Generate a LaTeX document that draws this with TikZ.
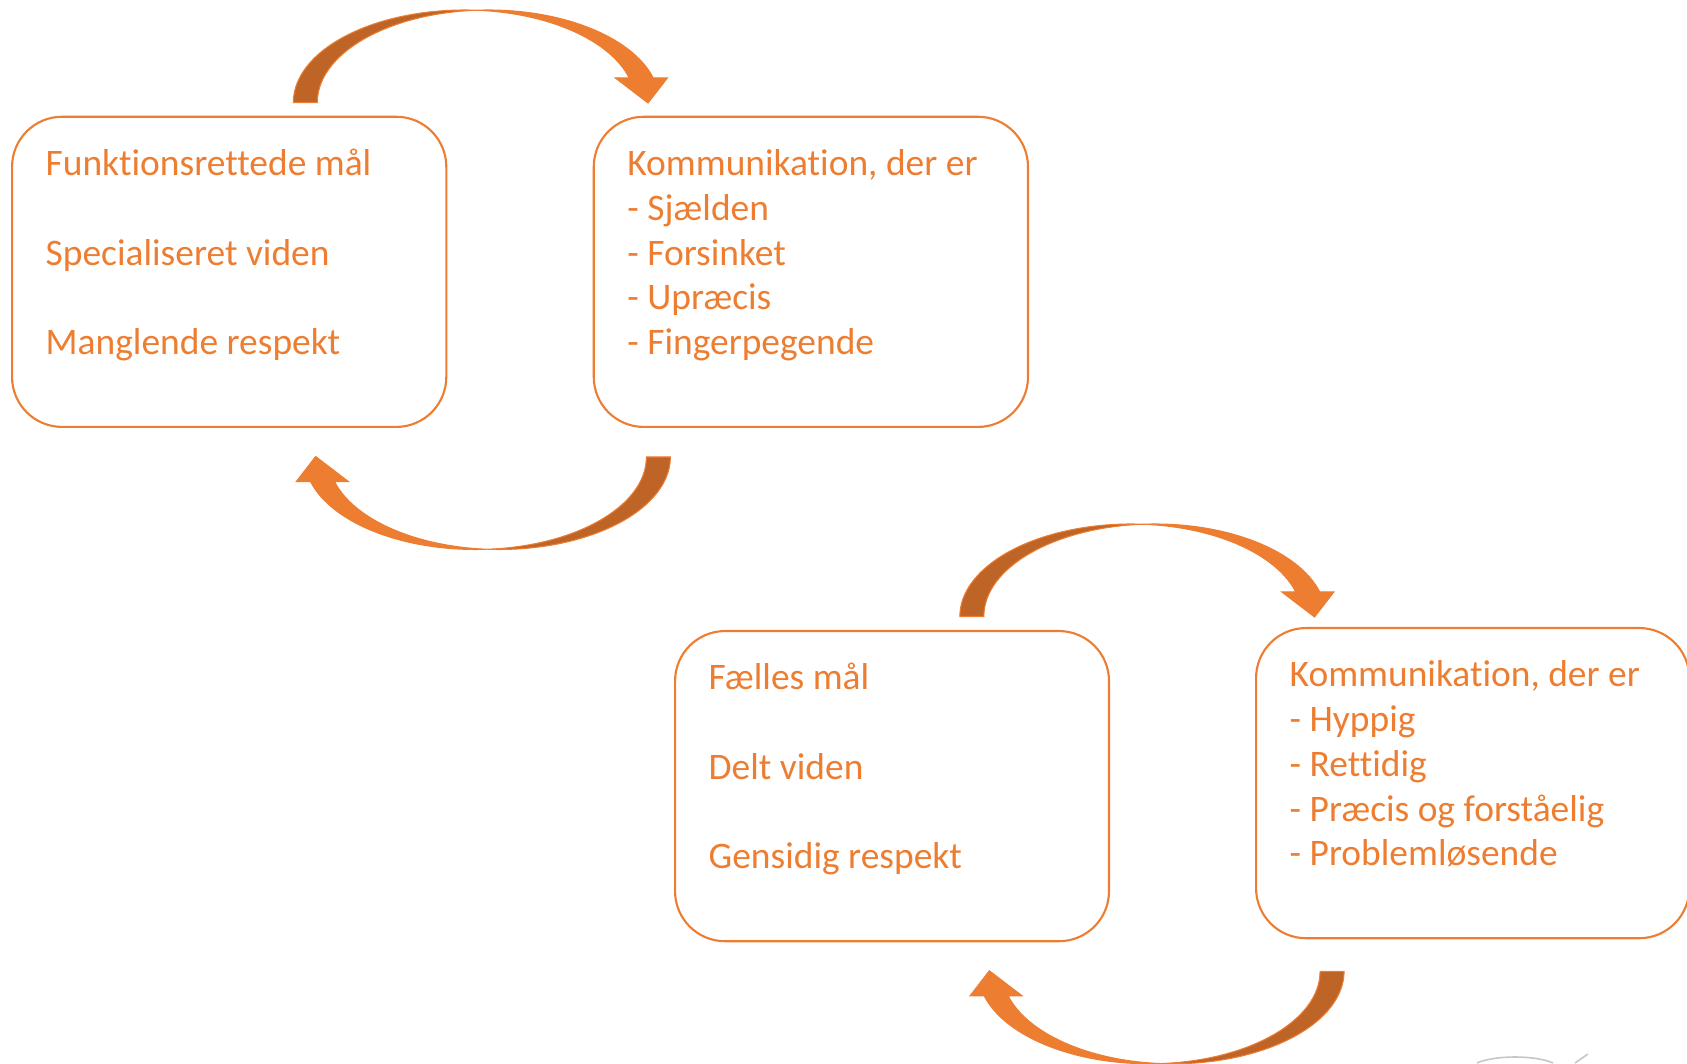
\documentclass[tikz,border=0pt]{standalone}
\usepackage{fontspec}
\setmainfont{Carlito}[Ligatures=NoCommon]
\definecolor{accent}{HTML}{ED7D31}
\definecolor{accentdark}{HTML}{BE6427}
\tikzset{
  box/.style={draw=accent, line width=0.6pt, rounded corners=0.5cm, minimum width=4.34cm, minimum height=3.1cm, inner sep=0pt, anchor=north west},
  boxtext/.style={text=accent, inner sep=0pt, anchor=base west, font=\fontsize{10.65pt}{12.72pt}\selectfont},
  curvedarrow/.pic={
    % back of the ribbon
    \filldraw[fill=accentdark, draw=accent, line width=0.3pt] (-183,0) arc[start angle=180, end angle=85.98, x radius=171, y radius=92.5] arc[start angle=94.02, end angle=180, x radius=171, y radius=92.5] -- cycle;
    % front of the ribbon with head
    \filldraw[fill=accent, draw=accent, line width=0.3pt] (0,92.27) arc[start angle=94.02, end angle=15.36, x radius=171, y radius=92.5] -- (191,24.5) -- (171.7,-0.5) -- (139,24.5) -- (152.9,24.5) arc[start angle=15.36, end angle=85.98, x radius=171, y radius=92.5] -- cycle;
  }
}
\begin{document}
\begin{tikzpicture}[x=0.01cm, y=0.01cm]
  \useasboundingbox (0,0) rectangle (1687,1063);

  % first cycle
  \node[box, minimum width=4.34cm] (funk) at (11,947.3) {};
  \node[box, minimum width=4.34cm] (kommsvag) at (592.7,947.3) {};
  \node[boxtext] (funktxt) at ([shift={(34,-60)}]funk.north west) {\begin{tabular}[t]{@{}l@{}}Funktionsrettede mål\\ \\ Specialiseret viden\\ \\ Manglende respekt\end{tabular}};
  \node[boxtext] (kommsvagtxt) at ([shift={(34,-60)}]kommsvag.north west) {\begin{tabular}[t]{@{}l@{}}Kommunikation, der er\\ - Sjælden\\ - Forsinket\\ - Upræcis\\ - Fingerpegende\end{tabular}};
  \pic at ([shift={(29,13.2)}]funk.north east) {curvedarrow};   %over
  \pic[rotate=180] at ([shift={(40,-29)}]funk.south east) {curvedarrow};   %under

  % second cycle
  \node[box, minimum width=4.337cm] (faelles) at (674,433) {};
  \node[box, minimum width=4.33cm] (kommgod) at (1255,436) {};
  \node[boxtext] (faellestxt) at ([shift={(34,-60)}]faelles.north west) {\begin{tabular}[t]{@{}l@{}}Fælles mål\\ \\ Delt viden\\ \\ Gensidig respekt\end{tabular}};
  \node[boxtext] (kommgodtxt) at ([shift={(34,-60)}]kommgod.north west) {\begin{tabular}[t]{@{}l@{}}Kommunikation, der er\\ - Hyppig\\ - Rettidig\\ - Præcis og forståelig\\ - Problemløsende\end{tabular}};
  \pic at ([shift={(32.8,13.5)}]faelles.north east) {curvedarrow};   %over
  \pic[rotate=180] at ([shift={(51,-29)}]faelles.south east) {curvedarrow};   %under

  % cut-off shape at the bottom edge
  \draw[gray!45, line width=0.45pt] (1477,0) .. controls (1495,8) and (1535,8) .. (1553,0);
  \draw[gray!45, line width=0.45pt] (1575,0) -- (1588,9);
\end{tikzpicture}
\end{document}
